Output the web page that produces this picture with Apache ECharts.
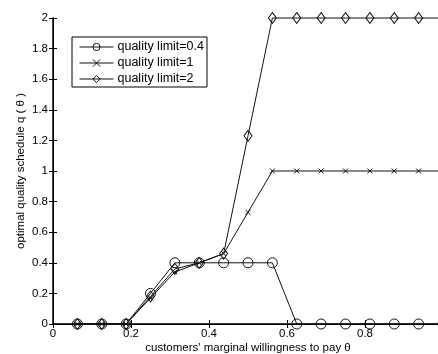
<!DOCTYPE html>
<html>
<head>
<meta charset="utf-8">
<script src="https://cdn.jsdelivr.net/npm/echarts@6/dist/echarts.min.js"></script>
<style>
  html, body { margin: 0; padding: 0; background: #fff; }
  #chart { width: 438px; height: 354px; }
</style>
</head>
<body>
<div id="chart"></div>
<script>
// theta = k/16, k = 1..16
const theta = [0.0625, 0.125, 0.1875, 0.25, 0.3125, 0.375, 0.4375, 0.5,
  0.5625, 0.625, 0.6875, 0.75, 0.8125, 0.875, 0.9375, 1.0]
const limit04 = [0, 0, 0, 0.2, 0.4, 0.4, 0.4, 0.4, 0.4, 0, 0, 0, 0, 0, 0, 0]
const limit1 = [0, 0, 0, 0.17, 0.34, 0.4, 0.46, 0.73, 1, 1, 1, 1, 1, 1, 1, 1]
const limit2 = [0, 0, 0, 0.18, 0.36, 0.4, 0.46, 1.23, 2, 2, 2, 2, 2, 2, 2, 2]
const seriesNames = ['quality limit=0.4', 'quality limit=1', 'quality limit=2']

const font = 'Liberation Sans, Arial, sans-serif'
const crossPath = 'path://M0,0L10,10M10,0L0,10'

function pairs(ys) {
  return theta.map((x, i) => [x, ys[i]])
}

function makeSerie(name, ys, symbol, size) {
  return {
    name: name,
    type: 'line',
    data: pairs(ys),
    symbol: symbol,
    symbolSize: size,
    clip: false,
    lineStyle: { color: '#111', width: 1 },
    itemStyle: { color: 'rgba(0,0,0,0)', borderColor: '#111', borderWidth: 1 },
    emphasis: { disabled: true },
    animation: false
  }
}

const chart = echarts.init(document.getElementById('chart'))
const tickStyle = { show: true, inside: true, length: 4, lineStyle: { color: '#000' } }

chart.setOption({
  animation: false,
  textStyle: { fontFamily: font },
  grid: { left: 53, top: 18, width: 390, height: 306, show: false, outerBoundsMode: 'none', containLabel: false },
  legend: {
    orient: 'vertical',
    left: 72,
    top: 37,
    data: seriesNames,
    itemWidth: 34,
    itemHeight: 9,
    itemGap: 2,
    padding: [3, 3, 1, 7],
    backgroundColor: '#fff',
    borderColor: '#000',
    borderWidth: 1,
    borderRadius: 0,
    lineStyle: { width: 1 },
    itemStyle: { borderWidth: 1 },
    textStyle: { fontSize: 12.5, lineHeight: 14, color: '#000', fontFamily: font, padding: [0, 0, 0, -1] }
  },
  xAxis: [{
    type: 'value',
    min: 0,
    max: 1,
    interval: 0.2,
    name: 'customers\' marginal willingness to pay θ',
    nameLocation: 'middle',
    nameGap: 18,
    nameMoveOverlap: false,
    nameTextStyle: { fontSize: 11.5, color: '#000' },
    axisLine: { show: true, lineStyle: { color: '#000', width: 1.5 } },
    axisTick: tickStyle,
    axisLabel: { fontSize: 11.5, color: '#000', margin: 4 },
    splitLine: { show: false }
  }, {
    type: 'value',
    position: 'top',
    min: 0,
    max: 1,
    interval: 0.2,
    axisLine: { show: true, lineStyle: { color: '#000', width: 1 } },
    axisTick: tickStyle,
    axisLabel: { show: false },
    splitLine: { show: false }
  }],
  yAxis: [{
    type: 'value',
    min: 0,
    max: 2,
    interval: 0.2,
    name: 'optimal quality schedule q ( θ )',
    nameLocation: 'middle',
    nameGap: 26,
    nameMoveOverlap: false,
    nameTextStyle: { fontSize: 11.5, color: '#000' },
    axisLine: { show: true, lineStyle: { color: '#000', width: 1.5 } },
    axisTick: tickStyle,
    axisLabel: { fontSize: 11.5, color: '#000', margin: 5 },
    splitLine: { show: false }
  }, {
    type: 'value',
    position: 'right',
    min: 0,
    max: 2,
    interval: 0.2,
    axisLine: { show: true, lineStyle: { color: '#000', width: 1 } },
    axisTick: tickStyle,
    axisLabel: { show: false },
    splitLine: { show: false }
  }],
  series: [
    makeSerie(seriesNames[0], limit04, 'circle', 10),
    makeSerie(seriesNames[1], limit1, crossPath, 5),
    makeSerie(seriesNames[2], limit2, 'diamond', [8, 11])
  ]
})
</script>
</body>
</html>
